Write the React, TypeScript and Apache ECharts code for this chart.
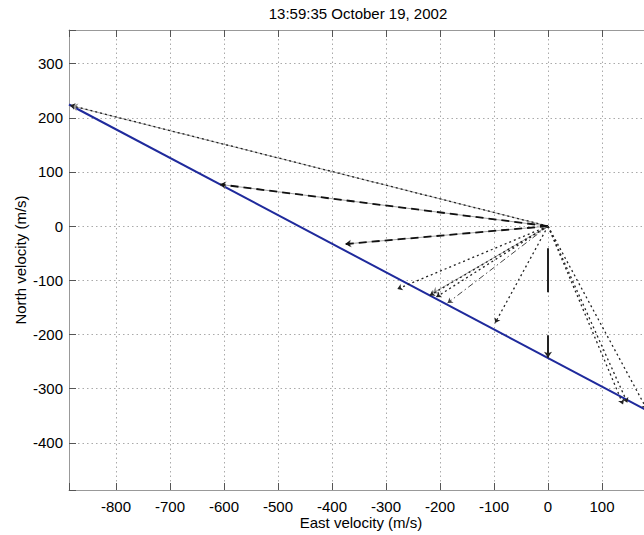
import React, { useEffect, useRef } from "react";
import * as echarts from "echarts";

// Axis ranges (m/s)
const xRange = [-887, 200];
const yRange = [-487, 362];

// Constraint line (blue)
const constraintLine = [
  [-887, 224.5],
  [200, -349],
];

// Arrow tips (all arrows start at origin), grouped by line style
const dottedArrows = [
  [-885, 223],
  [-279, -116],
  [-219, -128],
  [-207, -131],
  [-98, -179],
  [139, -329],
  [147, -326],
  [183, -338],
];
const grayArrows = [
  [-882, 222],
  [-607, 77],
  [-375, -33],
  [-214, -124],
];
const dashedArrows = [
  [-607, 77],
  [-375, -33],
];
const dashDotArrows = [
  [-186, -142],
];
const verticalArrow = [[0, -243]];

const FONT = "'Liberation Sans', Arial, Helvetica, sans-serif";

function arrows(tips: number[][]) {
  return tips.map((t) => ({ coords: [[0, 0], t] }));
}

export default function App() {
  const ref = useRef<HTMLDivElement>(null);
  useEffect(() => {
    if (!ref.current) return;
    const chart = echarts.init(ref.current, null, { renderer: "svg" });
    const axisCommon = {
      type: "value",
      splitNumber: 10,
      minInterval: 100,
      maxInterval: 100,
    };
    const lab = (v: number) => (Math.round(v) % 100 === 0 ? String(Math.round(v)) : "");
    const arrowSeries = (name: string, tips: number[][], lineStyle: any, size = 5) => ({
      name,
      type: "lines",
      coordinateSystem: "cartesian2d",
      xAxisIndex: 0,
      yAxisIndex: 0,
      symbol: ["none", "arrow"],
      symbolSize: size,
      lineStyle: { opacity: 1, ...lineStyle },
      data: arrows(tips),
      z: 3,
    });
    chart.setOption({
      animation: false,
      backgroundColor: "#ffffff",
      textStyle: { fontFamily: FONT },
      grid: {
        left: 69,
        top: 30,
        width: 587,
        height: 460,
        containLabel: false,
        outerBoundsMode: "none",
      },
      xAxis: [
        {
          ...axisCommon,
          position: "bottom",
          min: xRange[0],
          max: xRange[1],
          axisLine: { show: true, onZero: false, lineStyle: { color: "#999", width: 1 } },
          axisTick: { show: true, inside: true, length: 7, lineStyle: { color: "#555" } },
          axisLabel: {
            formatter: lab,
            color: "#000",
            fontSize: 15,
            fontFamily: FONT,
            margin: 9,
            showMaxLabel: false,
          },
          splitLine: { show: true, lineStyle: { color: "#aaa", type: [1.5, 3], width: 1 } },
        },
        {
          ...axisCommon,
          position: "top",
          min: xRange[0],
          max: xRange[1],
          axisLine: { show: true, onZero: false, lineStyle: { color: "#999", width: 1 } },
          axisTick: { show: true, inside: true, length: 7, lineStyle: { color: "#555" } },
          axisLabel: { show: false },
          splitLine: { show: false },
        },
      ],
      yAxis: {
        ...axisCommon,
        position: "left",
        min: yRange[0],
        max: yRange[1],
        axisLine: { show: true, onZero: false, lineStyle: { color: "#999", width: 1 } },
        axisTick: { show: true, inside: true, length: 7, lineStyle: { color: "#555" } },
        axisLabel: { formatter: lab, color: "#000", fontSize: 15, fontFamily: FONT, margin: 6 },
        splitLine: { show: true, lineStyle: { color: "#aaa", type: [1.5, 3], width: 1 } },
      },
      graphic: [
        {
          type: "text",
          x: 358,
          y: 13,
          style: { text: "13:59:35 October 19, 2002", font: `15px ${FONT}`, fill: "#000", align: "center", verticalAlign: "middle" },
        },
        {
          type: "text",
          x: 361,
          y: 522,
          style: { text: "East velocity (m/s)", font: `15px ${FONT}`, fill: "#000", align: "center", verticalAlign: "middle" },
        },
        {
          type: "text",
          x: 20,
          y: 260,
          rotation: Math.PI / 2,
          style: { text: "North velocity (m/s)", font: `15px ${FONT}`, fill: "#000", align: "center", verticalAlign: "middle" },
        },
      ],
      series: [
        {
          name: "constraint",
          type: "line",
          data: constraintLine,
          showSymbol: false,
          symbol: "none",
          lineStyle: { color: "#1f2a9c", width: 2 },
          z: 2,
        },
        arrowSeries("gray", grayArrows, { color: "#999", width: 0.9, type: "solid" }, 6),
        arrowSeries("dotted", dottedArrows, { color: "#222", width: 1.3, type: [2, 3] }, 5),
        arrowSeries("dashed", dashedArrows, { color: "#111", width: 1.8, type: [8, 5] }, 5),
        arrowSeries("dashdot", dashDotArrows, { color: "#444", width: 1, type: [6, 3, 1.5, 3] }, 5),
        arrowSeries("vertical", verticalArrow, { color: "#222", width: 2, type: [44, 43], dashOffset: 65 }, 6),
      ],
    });
    return () => chart.dispose();
  }, []);
  return (
    <div
      ref={ref}
      style={{ position: "fixed", left: 0, top: 0, width: 644, height: 535, background: "#fff" }}
    />
  );
}
